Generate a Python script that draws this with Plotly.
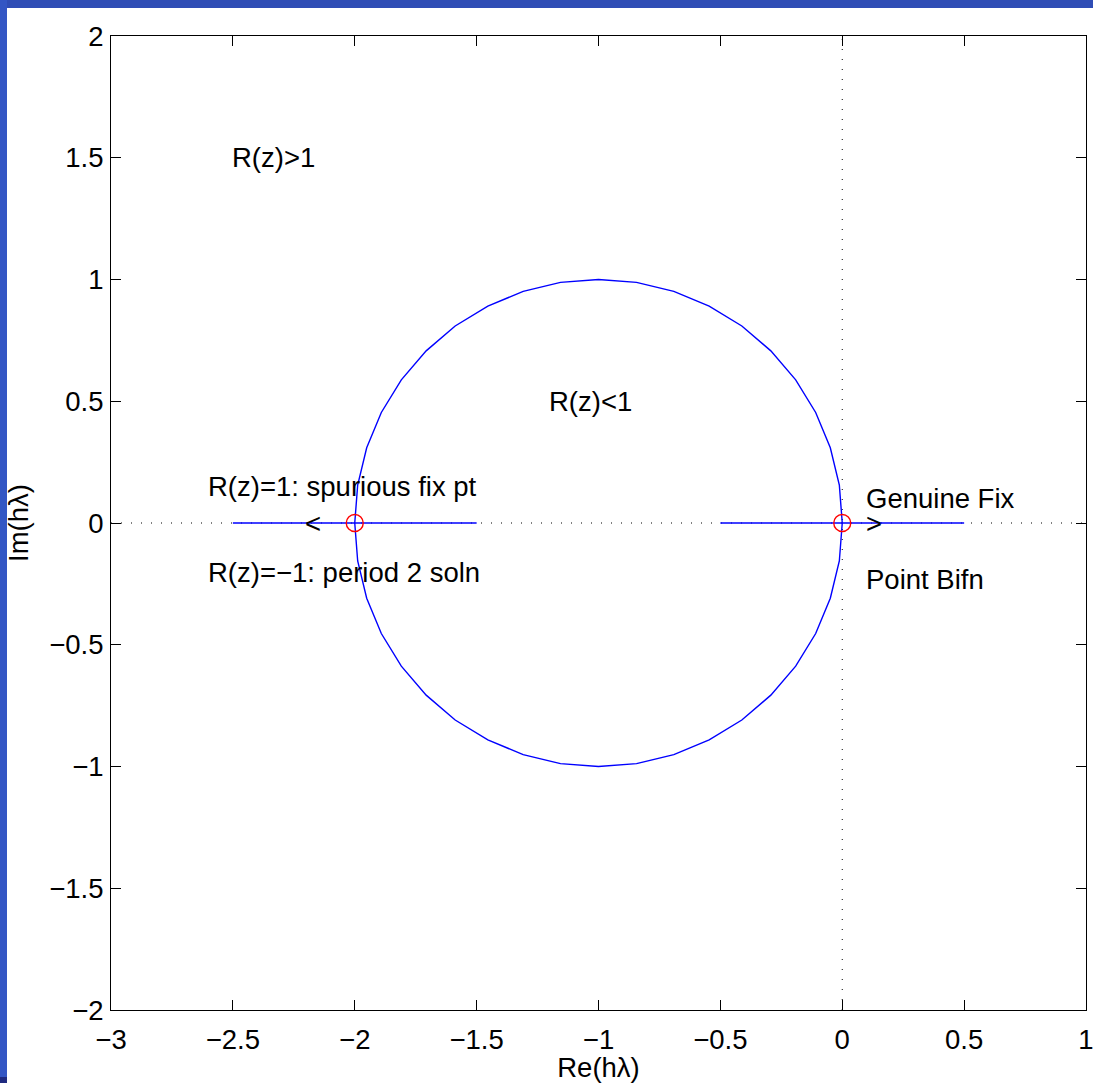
import plotly.graph_objects as go

# Circle |1+z| = 1 as drawn (polygon vertices)
circle_x = [0, -0.012, -0.049, -0.109, -0.191, -0.293, -0.412, -0.546, -0.691, -0.844,
            -1, -1.156, -1.309, -1.454, -1.588, -1.707, -1.809, -1.891, -1.951, -1.988,
            -2, -1.988, -1.951, -1.891, -1.809, -1.707, -1.588, -1.454, -1.309, -1.156,
            -1, -0.844, -0.691, -0.546, -0.412, -0.293, -0.191, -0.109, -0.049, -0.012, 0]
circle_y = [0, 0.156, 0.309, 0.454, 0.588, 0.707, 0.809, 0.891, 0.951, 0.988,
            1, 0.988, 0.951, 0.891, 0.809, 0.707, 0.588, 0.454, 0.309, 0.156,
            0, -0.156, -0.309, -0.454, -0.588, -0.707, -0.809, -0.891, -0.951, -0.988,
            -1, -0.988, -0.951, -0.891, -0.809, -0.707, -0.588, -0.454, -0.309, -0.156, 0]

seg_left_x = [-2.5, -1.5]
seg_right_x = [-0.5, 0.5]
seg_y = [0, 0]
fix_x = [-2, 0]
fix_y = [0, 0]

labels = ["R(z)>1", "R(z)<1", "R(z)=1: spurious fix pt", "R(z)=\u22121: period 2 soln",
          "Genuine Fix", "Point Bifn", "<", ">"]
label_x = [-2.5, -1.2, -2.6, -2.6, 0.1, 0.1, -2.2, 0.1]
label_y = [1.5, 0.5, 0.15, -0.205, 0.1, -0.23, 0, 0]

xticks = [-3, -2.5, -2, -1.5, -1, -0.5, 0, 0.5, 1]
yticks = [-2, -1.5, -1, -0.5, 0, 0.5, 1, 1.5, 2]

def fmt(v):
    s = ("%g" % v)
    return s.replace("-", "\u2212")

FONT = "Liberation Sans, Arial"
FS = 27.5

W, H = 1093, 1083
L, R, T, B = 111, 7, 36, 73
pw, ph = W - L - R, H - T - B

fig = go.Figure()
# dotted axes through origin
fig.add_trace(go.Scatter(x=[-3, 1], y=[0, 0], mode="lines",
                         line=dict(color="black", width=1, dash="1px,9px"), hoverinfo="skip"))
fig.add_trace(go.Scatter(x=[0, 0], y=[-2, 2], mode="lines",
                         line=dict(color="black", width=1, dash="1px,9px"), hoverinfo="skip"))
fig.add_trace(go.Scatter(x=circle_x, y=circle_y, mode="lines",
                         line=dict(color="#0000ff", width=1.4)))
fig.add_trace(go.Scatter(x=seg_left_x, y=seg_y, mode="lines",
                         line=dict(color="#0000ff", width=1.4)))
fig.add_trace(go.Scatter(x=seg_right_x, y=seg_y, mode="lines",
                         line=dict(color="#0000ff", width=1.4)))
fig.add_trace(go.Scatter(x=fix_x, y=fix_y, mode="markers",
                         marker=dict(symbol="circle-open", size=17, color="#ff0000",
                                     line=dict(width=1.4, color="#ff0000"))))

for t, x, y in zip(labels, label_x, label_y):
    fig.add_annotation(x=x, y=y, text=t, showarrow=False, xanchor="left", yanchor="middle",
                       font=dict(size=FS, color="black", family=FONT),
                       xshift=-3)

# slide frame (blue strips)
def px2x(p):
    return (p - L) / pw
def py2y(p):
    return (H - B - p) / ph

fig.add_shape(type="rect", xref="paper", yref="paper", x0=px2x(0), x1=px2x(W), y0=py2y(8), y1=py2y(0),
              fillcolor="#2f4db5", line=dict(width=0), layer="below")
fig.add_shape(type="rect", xref="paper", yref="paper", x0=px2x(0), x1=px2x(7), y0=py2y(H), y1=py2y(0),
              fillcolor="#3356c4", line=dict(width=0), layer="below")
fig.add_shape(type="rect", xref="paper", yref="paper", x0=px2x(0), x1=px2x(7), y0=py2y(H), y1=py2y(1077),
              fillcolor="#1f2a80", line=dict(width=0), layer="below")

# y-axis title placed as annotation (further left than plotly's title allows)
fig.add_annotation(xref="paper", yref="paper", x=px2x(18), y=0.5, text="Im(h\u03bb)",
                   textangle=-90, showarrow=False, xanchor="center", yanchor="middle",
                   font=dict(size=FS, color="black", family=FONT))

axis_common = dict(showgrid=False, zeroline=False, showline=True, linecolor="black", linewidth=1,
                   mirror="ticks", ticks="inside", ticklen=10, tickcolor="black", tickwidth=1,
                   ticklabeloverflow="allow",
                   tickfont=dict(size=FS, color="black", family=FONT))
fig.update_xaxes(range=[-3, 1], tickvals=xticks, ticktext=[fmt(v) for v in xticks],
                 ticklabelstandoff=5,
                 title=dict(text="Re(h\u03bb)", font=dict(size=FS, color="black", family=FONT),
                            standoff=0),
                 **axis_common)
fig.update_yaxes(range=[-2, 2], tickvals=yticks, ticktext=[fmt(v) for v in yticks],
                 ticklabelstandoff=1,
                 **axis_common)
fig.update_layout(width=W, height=H, margin=dict(l=L, r=R, t=T, b=B, autoexpand=False),
                  plot_bgcolor="white", paper_bgcolor="white", showlegend=False,
                  font=dict(family=FONT))
fig.write_html("out.html")
